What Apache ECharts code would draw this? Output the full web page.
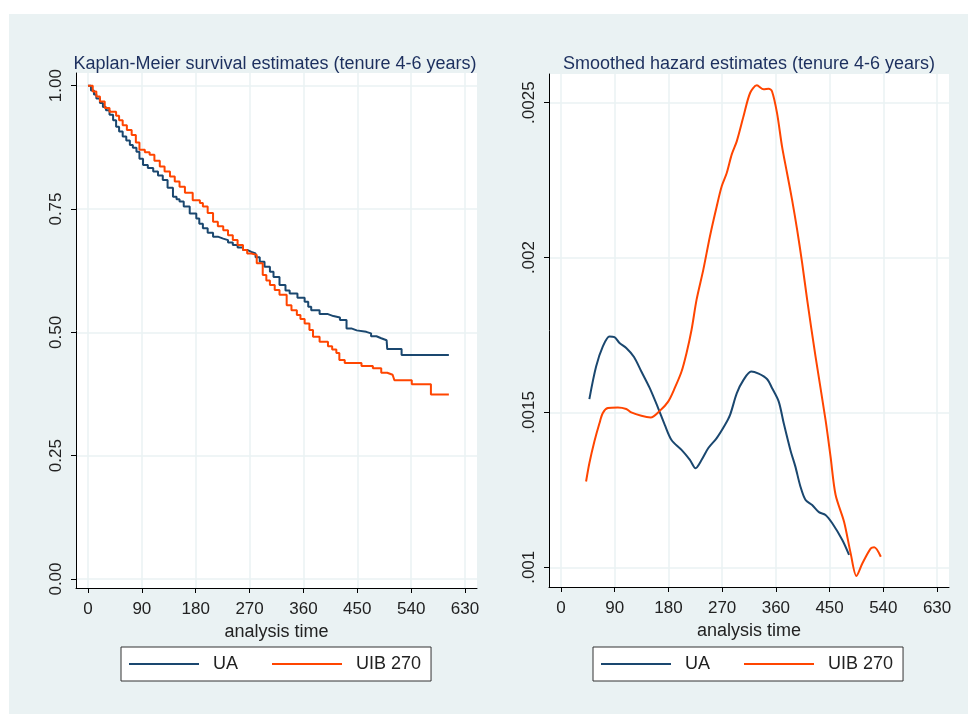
<!DOCTYPE html>
<html>
<head>
<meta charset="utf-8">
<title>Kaplan-Meier and smoothed hazard estimates</title>
<script src="https://cdn.jsdelivr.net/npm/echarts@6/dist/echarts.min.js"></script>
<style>
  html, body { margin: 0; padding: 0; background: #fff; }
  #frame { position: absolute; left: 9px; top: 14px; right: 0; bottom: 0; background: #eaf2f3; }
  #chart { position: absolute; left: 0; top: 0; width: 968px; height: 714px; }
</style>
</head>
<body>
<div id="frame"></div>
<div id="chart"></div>
<script>
// ticks
var timeTicks = [0, 90, 180, 270, 360, 450, 540, 630];
var survTicks = [0, 0.25, 0.5, 0.75, 1];
var hazTicks = [0.001, 0.0015, 0.002, 0.0025];

// Kaplan-Meier, UA
var kmTimeUA = [0, 5, 10, 14, 20, 25, 30, 36, 42, 47, 52, 58, 64, 70, 75, 81, 86, 92, 100, 109,
  117, 125, 133, 142, 148, 153, 160, 170, 181, 186, 192, 200, 209, 217, 226, 234, 242, 250, 259,
  266, 273, 280, 287, 295, 304, 310, 320, 330, 337, 350, 362, 368, 373, 387, 401, 410, 421, 432,
  440, 449, 465, 473, 482, 490, 499, 500, 524, 603];
var kmSurvUA = [1, 0.99, 0.982, 0.974, 0.965, 0.957, 0.95, 0.941, 0.93, 0.917, 0.907, 0.897, 0.889,
  0.88, 0.874, 0.866, 0.852, 0.839, 0.833, 0.826, 0.818, 0.809, 0.793, 0.775, 0.77, 0.765, 0.755,
  0.741, 0.731, 0.72, 0.711, 0.702, 0.694, 0.69, 0.687, 0.682, 0.677, 0.672, 0.667, 0.663, 0.66,
  0.652, 0.643, 0.633, 0.623, 0.612, 0.596, 0.585, 0.579, 0.57, 0.562, 0.552, 0.545, 0.537, 0.533,
  0.53, 0.525, 0.508, 0.504, 0.501, 0.498, 0.492, 0.488, 0.484, 0.481, 0.466, 0.454, 0.454];

// Kaplan-Meier, UIB 270
var kmTimeUIB = [0, 8, 14, 20, 28, 36, 47, 52, 58, 65, 73, 80, 86, 95, 103, 111, 120, 128, 137, 145,
  153, 162, 175, 187, 192, 200, 209, 217, 226, 234, 242, 250, 259, 266, 273, 282, 292, 298, 304,
  312, 320, 332, 340, 349, 355, 362, 370, 376, 387, 401, 408, 415, 420, 429, 449, 457, 476, 490,
  500, 509, 512, 541, 573, 603];
var kmSurvUIB = [1, 0.988, 0.978, 0.968, 0.955, 0.947, 0.939, 0.93, 0.92, 0.91, 0.9, 0.885, 0.87,
  0.865, 0.86, 0.848, 0.836, 0.826, 0.816, 0.806, 0.795, 0.783, 0.768, 0.762, 0.755, 0.742, 0.724,
  0.715, 0.707, 0.697, 0.687, 0.677, 0.667, 0.66, 0.657, 0.64, 0.616, 0.605, 0.596, 0.586, 0.576,
  0.555, 0.545, 0.535, 0.527, 0.518, 0.505, 0.491, 0.481, 0.472, 0.465, 0.458, 0.444, 0.438, 0.438,
  0.432, 0.427, 0.418, 0.414, 0.41, 0.403, 0.395, 0.374, 0.374];

// smoothed hazard, UA
var hzTimeUA = [47.6, 58.9, 70.2, 81.3, 89.7, 98.1, 109.4, 122.4, 134.7, 148.6, 162.8, 173.9, 185.2,
  202, 216, 225.5, 235.7, 246.9, 260.9, 274.9, 283.3, 294.6, 305.8, 318.6, 331.1, 345.1, 353.5,
  364.8, 373.2, 384.3, 392.7, 401.1, 409.5, 420.8, 432.1, 443.2, 454.5, 471.3, 482.6];
var hzUA = [0.001543, 0.001648, 0.001713, 0.001745, 0.001743, 0.001724, 0.001708, 0.001679, 0.001632,
  0.001579, 0.001514, 0.00146, 0.001411, 0.001379, 0.001347, 0.00132, 0.001347, 0.001385, 0.001417,
  0.00146, 0.001492, 0.001562, 0.001605, 0.001632, 0.001625, 0.001608, 0.001579, 0.001535, 0.001465,
  0.001379, 0.001325, 0.001261, 0.001218, 0.001201, 0.001178, 0.001169, 0.001142, 0.001088, 0.00104];

// smoothed hazard, UIB 270
var hzTimeUIB = [42.1, 47.6, 56, 64.5, 70.2, 78.6, 95.4, 109.4, 117.8, 134.7, 150.3, 165.5, 179.6,
  190.7, 202, 210.4, 218.8, 227.2, 238.5, 249.6, 260.9, 269.3, 277.7, 286.1, 294.6, 305.8, 317,
  328.2, 339.5, 347.9, 353.5, 361.9, 370.3, 378.7, 387.1, 395.6, 404, 412.4, 426.4, 443.2, 451.6,
  460, 474.2, 485.3, 494.9, 505, 519, 524.7, 535.8];
var hzUIB = [0.001277, 0.001336, 0.001406, 0.001465, 0.001498, 0.001514, 0.001516, 0.001511, 0.0015,
  0.001489, 0.001484, 0.001505, 0.001535, 0.001579, 0.001632, 0.001692, 0.001767, 0.001864, 0.001961,
  0.002069, 0.002165, 0.00223, 0.002273, 0.002333, 0.002376, 0.002456, 0.002532, 0.002556, 0.002543,
  0.002545, 0.002537, 0.002467, 0.002359, 0.002273, 0.002187, 0.00209, 0.001983, 0.001864, 0.001681,
  0.001476, 0.001357, 0.001234, 0.001147, 0.001045, 0.000972, 0.001013, 0.001061, 0.001065, 0.001034];

function zip(xs, ys) {
  var out = [];
  for (var i = 0; i < xs.length; i++) out.push([xs[i], ys[i]]);
  return out;
}

var fontFamily = "'Liberation Sans', Arial, sans-serif";
var gridColor = "#eaf2f3";
var navy = "#1a476f";
var orange = "#ff4500";

function timeAxis(gridIndex) {
  return {
    gridIndex: gridIndex,
    type: "value",
    min: -20,
    max: 650,
    name: "analysis time",
    nameLocation: "middle",
    nameGap: 25,
    nameTextStyle: { color: "#222", fontSize: 18, fontFamily: fontFamily },
    axisLine: { onZero: false, lineStyle: { color: "#000", width: 1 } },
    axisTick: { customValues: timeTicks, length: 5, lineStyle: { color: "#000" } },
    axisLabel: { customValues: timeTicks, margin: 13, color: "#222", fontSize: 17, fontFamily: fontFamily },
    splitLine: { show: true, lineStyle: { color: gridColor, width: 1.5 } }
  };
}

function valueAxis(gridIndex, min, max, ticks, fmt) {
  return {
    gridIndex: gridIndex,
    type: "value",
    min: min,
    max: max,
    axisLine: { show: true, onZero: false, lineStyle: { color: "#000", width: 1 } },
    axisTick: { show: true, customValues: ticks, length: 5, lineStyle: { color: "#000" } },
    axisLabel: {
      customValues: ticks,
      rotate: 90,
      margin: 11,
      color: "#222",
      fontSize: 17,
      fontFamily: fontFamily,
      formatter: fmt
    },
    splitLine: { show: true, lineStyle: { color: gridColor, width: 1.5 } }
  };
}

function legendAt(left) {
  return {
    left: left,
    top: 647,
    orient: "horizontal",
    data: ["UA", "UIB 270"],
    icon: "rect",
    itemWidth: 70,
    itemHeight: 2,
    itemGap: 34,
    padding: [8, 10, 8, 8],
    borderColor: "#333",
    borderWidth: 1,
    backgroundColor: "#fff",
    borderRadius: 0,
    textStyle: { color: "#222", fontSize: 18, fontFamily: fontFamily, padding: [0, 0, 0, 9] }
  };
}

var option = {
  animation: false,
  backgroundColor: "transparent",
  title: [
    {
      text: "Kaplan-Meier survival estimates (tenure 4-6 years)",
      left: 270, top: 50, textAlign: "center",
      textStyle: { color: "#1c2f5e", fontSize: 18, fontWeight: "normal", fontFamily: fontFamily }
    },
    {
      text: "Smoothed hazard estimates (tenure 4-6 years)",
      left: 744, top: 50, textAlign: "center",
      textStyle: { color: "#1c2f5e", fontSize: 18, fontWeight: "normal", fontFamily: fontFamily }
    }
  ],
  legend: [legendAt(121), legendAt(593)],
  grid: [
    { left: 76, top: 73, width: 401, height: 515, show: true, backgroundColor: "#fff", borderWidth: 0 },
    { left: 549, top: 74, width: 400, height: 513, show: true, backgroundColor: "#fff", borderWidth: 0 }
  ],
  xAxis: [timeAxis(0), timeAxis(1)],
  yAxis: [
    valueAxis(0, -0.0182, 1.0257, survTicks, function (v) { return v.toFixed(2); }),
    valueAxis(1, 0.0009364, 0.0025926, hazTicks, function (v) { return String(v).replace(/^0/, ""); })
  ],
  series: [
    {
      name: "UA", type: "line", xAxisIndex: 0, yAxisIndex: 0, step: "end",
      showSymbol: false, symbol: "none", color: navy, lineStyle: { width: 2 },
      data: zip(kmTimeUA, kmSurvUA)
    },
    {
      name: "UIB 270", type: "line", xAxisIndex: 0, yAxisIndex: 0, step: "end",
      showSymbol: false, symbol: "none", color: orange, lineStyle: { width: 2 },
      data: zip(kmTimeUIB, kmSurvUIB)
    },
    {
      name: "UA", type: "line", xAxisIndex: 1, yAxisIndex: 1, smooth: 0.3,
      showSymbol: false, symbol: "none", color: navy, lineStyle: { width: 2 },
      data: zip(hzTimeUA, hzUA)
    },
    {
      name: "UIB 270", type: "line", xAxisIndex: 1, yAxisIndex: 1, smooth: 0.3,
      showSymbol: false, symbol: "none", color: orange, lineStyle: { width: 2 },
      data: zip(hzTimeUIB, hzUIB)
    }
  ]
};

var myChart = echarts.init(document.getElementById("chart"), null, { renderer: "canvas" });
myChart.setOption(option);
</script>
</body>
</html>
